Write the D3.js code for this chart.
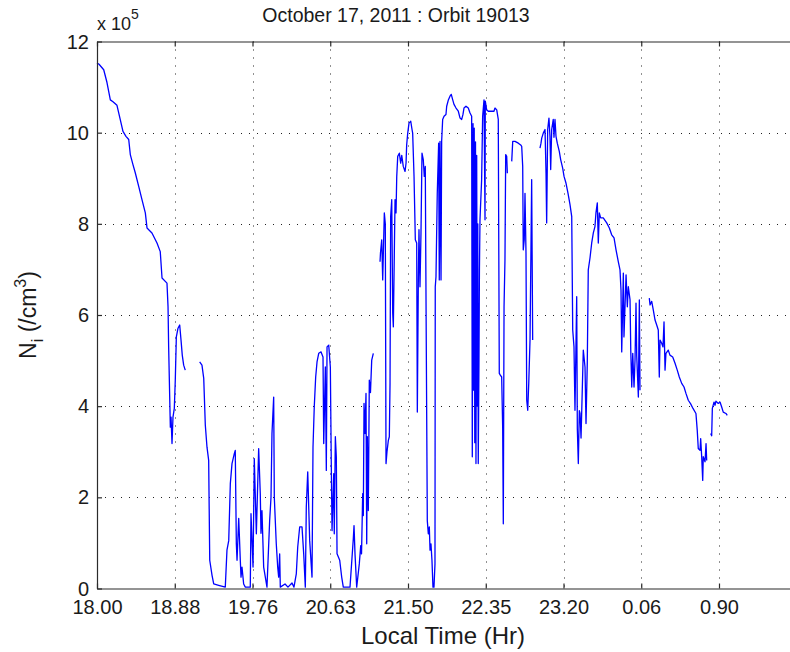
<!DOCTYPE html>
<html>
<head>
<meta charset="utf-8">
<script src="https://cdn.jsdelivr.net/npm/d3@7"></script>
<style>
  body { margin: 0; background: #fff; }
  svg { display: block; font-family: "Liberation Sans", Arial, sans-serif; }
</style>
</head>
<body>
<script>
// ion density along the orbit, local time (hr) vs Ni in units of 1e5 /cm^3
// each array is one unbroken stretch of the trace (gaps between them)
const pass1 = [[18.000,11.53],[18.023,11.5],[18.076,11.38],[18.113,11.1],[18.151,10.72],[18.181,10.68],[18.226,10.6],[18.264,10.28],[18.294,10.03],[18.328,9.92],[18.359,9.85],[18.377,9.52],[18.407,9.3],[18.433,9.12],[18.472,8.82],[18.509,8.53],[18.547,8.24],[18.566,7.91],[18.622,7.8],[18.679,7.58],[18.716,7.39],[18.736,6.81],[18.792,6.7],[18.804,6.18],[18.811,5.3],[18.830,3.54],[18.838,3.76],[18.849,3.18],[18.860,3.76],[18.875,3.95],[18.886,4.57],[18.898,5.52],[18.917,5.71],[18.936,5.78],[18.951,5.45],[18.965,5.12],[18.981,4.9],[18.999,4.79]]

const pass2 = [[19.162,4.97],[19.188,4.9],[19.208,4.61],[19.226,3.58],[19.245,3.1],[19.264,2.81],[19.276,0.62],[19.302,0.29],[19.321,0.10],[19.377,0.07],[19.452,0.03],[19.471,0.84],[19.491,1.05],[19.509,2.3],[19.528,2.74],[19.554,2.96],[19.565,3.03],[19.577,0.98],[19.585,0.62],[19.604,1.54],[19.622,0.62],[19.630,0.25],[19.641,0.47],[19.660,0.1],[19.679,0.03],[19.735,0.03],[19.743,1.64],[19.766,0.47],[19.780,2.85],[19.803,1.2],[19.829,3.07],[19.847,2.08],[19.855,1.21],[19.866,1.71],[19.885,0.47],[19.922,0.03],[19.952,1.49],[19.967,2.0],[19.978,3.4],[19.997,4.2],[20.004,2.0],[20.026,0.98],[20.042,0.47],[20.053,0.25],[20.064,0.76],[20.071,0.03],[20.124,0.1],[20.157,0.03],[20.202,0.12],[20.224,0.03],[20.250,0.32],[20.266,0.91],[20.288,1.35],[20.314,1.35],[20.333,0.76],[20.351,0.03],[20.362,1.79],[20.378,2.56],[20.400,1.05],[20.426,0.25],[20.437,3.1],[20.451,3.98],[20.467,4.64],[20.482,4.97],[20.501,5.16],[20.527,5.19],[20.549,5.08],[20.557,3.18],[20.575,4.86],[20.586,2.59],[20.594,5.3],[20.613,5.34],[20.631,4.86],[20.642,2.66],[20.650,1.27],[20.669,2.52],[20.675,1.2],[20.687,3.33],[20.698,2.89],[20.706,0.76],[20.736,0.62],[20.758,0.25],[20.776,0.03],[20.851,0.03],[20.888,1.09],[20.896,1.38],[20.907,0.76],[20.926,0.03],[20.955,0.54],[20.971,0.94],[20.980,0.76],[20.993,2.08],[21.000,1.6],[21.008,4.06],[21.019,3.4],[21.030,4.28],[21.038,0.98],[21.045,3.33],[21.056,1.71],[21.067,4.57],[21.080,4.3],[21.094,5.01],[21.112,5.16]]

const pass3 = [[21.187,7.17],[21.192,7.36],[21.206,7.65],[21.217,6.77],[21.235,8.24],[21.246,8.0],[21.254,2.74],[21.265,3.0],[21.280,3.25],[21.291,3.33],[21.299,4.5],[21.306,8.16],[21.318,8.53],[21.329,6.04],[21.336,5.74],[21.355,8.53],[21.366,8.24],[21.374,9.04],[21.385,9.48],[21.403,9.55],[21.418,9.33],[21.430,9.5],[21.447,9.26],[21.467,9.15],[21.478,9.33],[21.485,9.73],[21.497,9.99],[21.511,10.21],[21.530,10.25],[21.544,10.07],[21.551,9.99],[21.566,9.04],[21.580,7.65],[21.595,7.58],[21.602,3.87],[21.613,6.77],[21.620,7.87],[21.631,6.62],[21.642,7.8],[21.653,9.55],[21.667,9.41],[21.678,9.04],[21.689,9.26],[21.697,6.33],[21.711,1.49],[21.722,1.2],[21.733,1.35],[21.741,0.84],[21.751,0.98],[21.762,0.62],[21.773,0.03],[21.784,0.03],[21.795,0.54],[21.798,6.62],[21.806,6.84],[21.820,8.67],[21.835,9.77],[21.842,6.77],[21.850,9.81],[21.861,6.77],[21.868,9.81],[21.879,10.29],[21.894,10.36],[21.915,10.4],[21.923,10.58],[21.940,10.71],[21.959,10.8],[21.973,10.84],[21.989,10.72],[22.003,10.62],[22.025,10.54],[22.050,10.47],[22.069,10.32],[22.087,10.29],[22.101,10.4],[22.112,10.54],[22.134,10.58],[22.159,10.54],[22.178,10.43],[22.196,10.36],[22.203,2.89],[22.211,10.2],[22.216,4.35],[22.224,10.1],[22.230,3.2],[22.238,9.8],[22.243,2.74],[22.251,9.5],[22.257,4.0],[22.263,8.0],[22.268,2.74],[22.276,5.01],[22.281,7.0],[22.287,8.09],[22.305,8.97],[22.316,10.36],[22.331,10.72],[22.342,8.09],[22.345,10.69],[22.360,10.5],[22.378,10.47],[22.415,10.47],[22.440,10.47],[22.451,10.54],[22.470,10.5],[22.487,10.29],[22.498,4.72],[22.509,4.68],[22.524,4.64],[22.535,3.54],[22.542,1.42],[22.550,6.18],[22.560,7.2],[22.568,9.52],[22.579,9.48],[22.586,9.11]]

const pass4 = [[22.634,9.37],[22.645,9.81],[22.670,9.81],[22.706,9.77],[22.732,9.73],[22.743,9.7],[22.754,9.26],[22.760,7.43],[22.771,7.65],[22.779,8.67],[22.790,7.36],[22.798,4.13],[22.809,3.91],[22.820,4.5],[22.834,5.45],[22.852,8.97],[22.863,5.45]]

const pass5 = [[22.943,9.66],[22.954,9.77],[22.962,9.88],[22.979,9.99],[22.998,10.07],[23.009,9.11],[23.016,8.02],[23.027,10.07],[23.041,10.32],[23.052,9.92],[23.060,9.19],[23.071,10.07],[23.088,10.29],[23.096,9.9],[23.107,10.29],[23.118,9.92],[23.132,9.77],[23.154,9.59],[23.169,9.41],[23.191,9.22],[23.206,9.04],[23.228,8.89],[23.250,8.67],[23.272,8.42],[23.291,8.16],[23.302,5.67],[23.316,5.3],[23.327,3.91],[23.346,6.4],[23.353,3.5],[23.364,2.74],[23.375,3.9],[23.383,3.84],[23.394,3.3],[23.419,5.23],[23.438,4.86],[23.449,3.62],[23.463,4.94],[23.474,6.99],[23.493,7.25],[23.512,7.58],[23.530,7.8],[23.548,7.94],[23.559,8.24],[23.574,8.46],[23.585,7.58],[23.596,8.24],[23.611,8.13],[23.640,8.13],[23.678,8.02],[23.707,7.91],[23.733,7.76],[23.759,7.69],[23.781,7.43],[23.806,7.17],[23.825,6.99],[23.836,6.55],[23.844,5.19],[23.862,6.92],[23.869,5.52],[23.892,6.88],[23.906,6.18],[23.917,6.62],[23.936,6.33],[23.944,5.23],[23.955,4.42],[23.966,5.16],[23.980,4.42],[23.991,5.0],[24.002,6.26],[24.010,5.1],[24.028,4.2],[24.039,6.33],[24.046,4.35]]

const pass6 = [[24.147,6.37],[24.155,6.22],[24.173,6.3],[24.190,6.11],[24.209,5.89],[24.227,5.78],[24.244,5.67],[24.255,4.64],[24.263,5.45],[24.281,5.38],[24.295,5.3],[24.306,5.85],[24.317,4.79],[24.327,5.16],[24.352,5.23],[24.370,5.12],[24.400,5.08],[24.425,4.94],[24.449,4.79],[24.471,4.64],[24.497,4.5],[24.522,4.42],[24.543,4.28],[24.568,4.13],[24.594,4.05],[24.619,3.95],[24.651,3.84],[24.665,3.47],[24.676,3.07],[24.695,3.03],[24.702,3.29],[24.713,2.89],[24.724,2.37],[24.730,2.89],[24.749,2.78],[24.760,3.18],[24.767,2.81]]

const pass7 = [[24.810,3.4],[24.821,3.35],[24.828,3.95],[24.846,4.09],[24.857,4.02],[24.867,4.11],[24.892,4.06],[24.911,4.09],[24.929,3.98],[24.946,3.87],[24.975,3.84],[24.989,3.8]]

// tick marks (local time past midnight kept as 24+)
const xTicks = [18.00, 18.88, 19.76, 20.63, 21.50, 22.35, 23.20, 24.06, 24.90]
const xEnd = 25.74
const yTicks = [0, 2, 4, 6, 8, 10, 12]

const w = 790
const h = 652
const padLeft = 97, padTop = 41.5, axisBottom = 588.5
const step = 77.75

let svg = d3.select("body").append("svg")
    .attr("width", w)
    .attr("height", h)

// ticks are evenly spaced along the orbit, so map local time piecewise
let xDomain = xTicks.concat([xEnd])
let x = d3.scaleLinear()
    .domain(xDomain)
    .range(xDomain.map(function(d, i) {return padLeft + i*step}))

let y = d3.scaleLinear()
    .domain([0, 12])
    .range([axisBottom, padTop])

const plotW = x(xEnd) - padLeft

//grid
let grid = svg.append("g")
grid.selectAll("line.vg")
    .data(xTicks.slice(1))
    .enter().append("line")
    .attr("x1", function(d) {return Math.round(x(d)) + 0.5})
    .attr("x2", function(d) {return Math.round(x(d)) + 0.5})
    .attr("y1", padTop)
    .attr("y2", axisBottom)
grid.selectAll("line.hg")
    .data(yTicks.slice(1, -1))
    .enter().append("line")
    .attr("x1", padLeft)
    .attr("x2", padLeft + plotW)
    .attr("y1", function(d) {return Math.round(y(d)) + 0.5})
    .attr("y2", function(d) {return Math.round(y(d)) + 0.5})
grid.selectAll("line")
    .attr("stroke", "#222")
    .attr("stroke-width", 1)
    .attr("stroke-dasharray", "1,7")

//data trace
let line = d3.line()
    .x(function(d) {return x(d[0])})
    .y(function(d) {return y(d[1])})

svg.append("g").selectAll("path")
    .data([pass1, pass2, pass3, pass4, pass5, pass6, pass7])
    .enter().append("path")
    .attr("d", line)
    .attr("fill", "none")
    .attr("stroke", "#0000ff")
    .attr("stroke-width", 1.3)
    .attr("stroke-linejoin", "round")

//axes, ticks pointing inwards
let xAxis = d3.axisBottom(x)
    .tickValues(xTicks)
    .tickFormat(function(d) {return (d % 24).toFixed(2)})
    .tickSizeInner(-5)
    .tickSizeOuter(0)
    .tickPadding(11)

let gx = svg.append("g")
    .attr("transform", "translate(0," + axisBottom + ")")
    .call(xAxis)

let gt = svg.append("g")
    .attr("transform", "translate(0," + padTop + ")")
    .call(d3.axisTop(x).tickValues(xTicks).tickFormat("").tickSizeInner(-5).tickSizeOuter(0))

let gy = svg.append("g")
    .attr("transform", "translate(" + padLeft + ",0)")
    .call(d3.axisLeft(y).tickValues(yTicks).tickSizeInner(-5).tickSizeOuter(0).tickPadding(8))

svg.selectAll(".domain, .tick line")
    .attr("stroke", "#2b2b2b")
    .attr("stroke-width", 1.2)

svg.selectAll(".tick text")
    .attr("fill", "#1a1a1a")
    .style("font-family", "Liberation Sans, Arial, sans-serif")
    .style("font-size", "20px")

gy.selectAll(".tick text").attr("dy", "0.33em")

//labels
svg.append("text")
    .attr("x", 396)
    .attr("y", 21.5)
    .attr("text-anchor", "middle")
    .attr("font-size", "19.5px")
    .attr("fill", "#1a1a1a")
    .text("October 17, 2011 : Orbit 19013")

let mult = svg.append("text")
    .attr("x", 97)
    .attr("y", 30)
    .attr("font-size", "18px")
    .attr("fill", "#1a1a1a")
mult.append("tspan").text("x 10")
mult.append("tspan").attr("dy", -11).attr("font-size", "14px").text("5")

svg.append("text")
    .attr("x", 443)
    .attr("y", 644)
    .attr("text-anchor", "middle")
    .attr("font-size", "24px")
    .attr("fill", "#1a1a1a")
    .text("Local Time (Hr)")

let ylab = svg.append("text")
    .attr("transform", "translate(36,315) rotate(-90)")
    .attr("text-anchor", "middle")
    .attr("font-size", "23px")
    .attr("fill", "#1a1a1a")
ylab.append("tspan").text("N")
ylab.append("tspan").attr("dy", 7).attr("font-size", "16px").text("i")
ylab.append("tspan").attr("dy", -7).text(" (/cm")
ylab.append("tspan").attr("dy", -10).attr("font-size", "16px").text("3")
ylab.append("tspan").attr("dy", 10).text(")")
</script>
</body>
</html>
